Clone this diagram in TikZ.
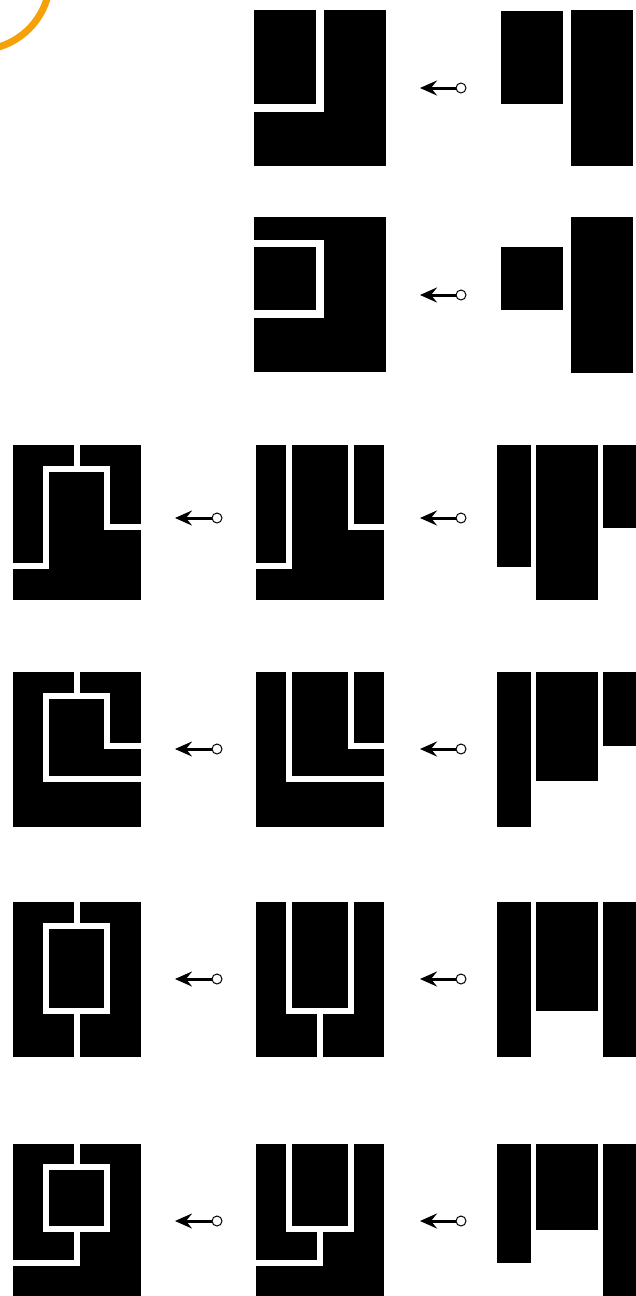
\documentclass[tikz,border=0pt]{standalone}
\usetikzlibrary{arrows.meta}
\definecolor{hiorange}{RGB}{247,161,8}
\tikzset{
  blk/.style={fill=black},
  wline/.style={draw=white,line width=6.3pt,line join=miter},
  wthick/.style={draw=white,line width=7.5pt,line join=miter},
  tail/.style={circle,draw=black,fill=white,line width=1pt,inner sep=0pt,minimum size=10pt},
  arr/.style={line width=3pt,-{Stealth[length=17pt,width=15pt,inset=6pt]}},
}
\begin{document}
\begin{tikzpicture}[x=1pt,y=-1pt]
\useasboundingbox (0,0) rectangle (636,1296);
\clip (0,0) rectangle (636,1296);
% orange highlight arc
\draw[hiorange,line width=7pt] (-22,-22) circle (72);

% ---------- Row 1 ----------
\path[blk] (254,10) rectangle (386,166);
\draw[wthick,line width=8pt] (320,6) -- (320,108) -- (250,108);
\path[blk] (501,11) rectangle (563,104);
\path[blk] (571,10) rectangle (633,166);
\node[tail] (c1) at (461,88) {};
\coordinate (t1) at (420,88);
\draw[arr] (c1) -- (t1);

% ---------- Row 2 ----------
\path[blk] (254,217) rectangle (386,372);
\draw[wthick] (250,243.5) -- (320,243.5) -- (320,314) -- (250,314);
\path[blk] (501,247) rectangle (563,310);
\path[blk] (571,217) rectangle (633,373);
\node[tail] (c2) at (461,295) {};
\coordinate (t2) at (420,295);
\draw[arr] (c2) -- (t2);

% ---------- Row 3 ----------
\path[blk] (13,445) rectangle (141,600);
\draw[wline] (77,441) -- (77,469);
\draw[wline] (9,566) -- (46,566) -- (46,469) -- (107,469) -- (107,527) -- (145,527);
\path[blk] (256,445) rectangle (384,600);
\draw[wline] (289,441) -- (289,566) -- (252,566);
\draw[wline] (351,441) -- (351,527) -- (388,527);
\path[blk] (497,445) rectangle (531,567);
\path[blk] (536,445) rectangle (598,600);
\path[blk] (603,445) rectangle (637,528);
\node[tail] (c3l) at (217,518) {};
\coordinate (t3l) at (175,518);
\draw[arr] (c3l) -- (t3l);
\node[tail] (c3r) at (461,518) {};
\coordinate (t3r) at (420,518);
\draw[arr] (c3r) -- (t3r);

% ---------- Row 4 ----------
\path[blk] (13,672) rectangle (141,827);
\draw[wline] (77,668) -- (77,696);
\draw[wline] (145,779) -- (46,779) -- (46,696) -- (107,696) -- (107,746) -- (145,746);
\path[blk] (256,672) rectangle (384,827);
\draw[wline] (289,668) -- (289,779) -- (388,779);
\draw[wline] (351,668) -- (351,746) -- (388,746);
\path[blk] (497,672) rectangle (531,827);
\path[blk] (536,672) rectangle (598,781);
\path[blk] (603,672) rectangle (637,746);
\node[tail] (c4l) at (217,749) {};
\coordinate (t4l) at (175,749);
\draw[arr] (c4l) -- (t4l);
\node[tail] (c4r) at (461,749) {};
\coordinate (t4r) at (420,749);
\draw[arr] (c4r) -- (t4r);

% ---------- Row 5 ----------
\path[blk] (13,902) rectangle (141,1057);
\draw[wline] (77,898) -- (77,926);
\draw[wline] (46,926) rectangle (107,1011);
\draw[wline] (77,1011) -- (77,1061);
\path[blk] (256,902) rectangle (384,1057);
\draw[wline] (289,898) -- (289,1011) -- (351,1011) -- (351,898);
\draw[wline] (320,1011) -- (320,1061);
\path[blk] (497,902) rectangle (531,1057);
\path[blk] (536,902) rectangle (598,1011);
\path[blk] (603,902) rectangle (637,1057);
\node[tail] (c5l) at (217,979) {};
\coordinate (t5l) at (175,979);
\draw[arr] (c5l) -- (t5l);
\node[tail] (c5r) at (461,979) {};
\coordinate (t5r) at (420,979);
\draw[arr] (c5r) -- (t5r);

% ---------- Row 6 ----------
\path[blk] (13,1144) rectangle (141,1300);
\draw[wline] (77,1140) -- (77,1167);
\draw[wline] (46,1167) rectangle (107,1229);
\draw[wline] (77,1229) -- (77,1263) -- (9,1263);
\path[blk] (256,1144) rectangle (384,1300);
\draw[wline] (289,1140) -- (289,1229) -- (351,1229) -- (351,1140);
\draw[wline] (320,1229) -- (320,1263) -- (252,1263);
\path[blk] (497,1144) rectangle (531,1263);
\path[blk] (536,1144) rectangle (598,1230);
\path[blk] (603,1144) rectangle (637,1300);
\node[tail] (c6l) at (217,1221) {};
\coordinate (t6l) at (175,1221);
\draw[arr] (c6l) -- (t6l);
\node[tail] (c6r) at (461,1221) {};
\coordinate (t6r) at (420,1221);
\draw[arr] (c6r) -- (t6r);
\end{tikzpicture}
\end{document}
